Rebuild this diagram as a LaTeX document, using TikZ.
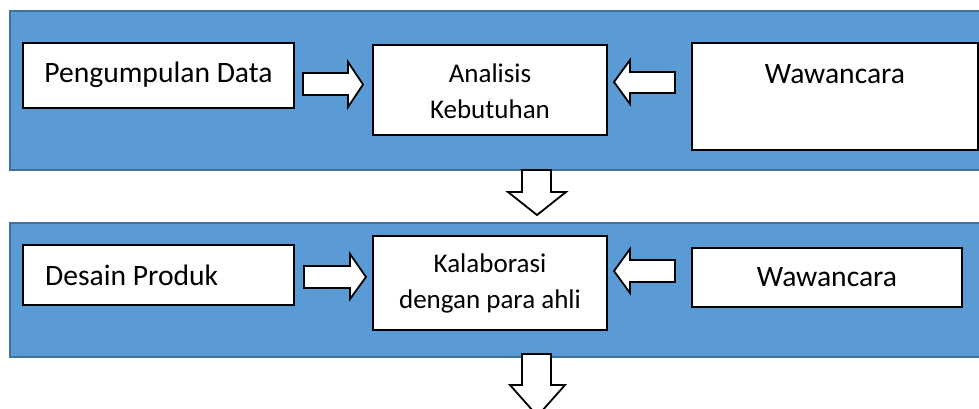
\documentclass[tikz,border=0pt]{standalone}
\usepackage{fontspec}
\setmainfont{Carlito}
\definecolor{bandfill}{HTML}{5B9BD5}
\definecolor{bandline}{HTML}{41719C}
\tikzset{
  band/.style={draw=bandline, fill=bandfill, line width=2.2pt},
  wbox/.style={draw=black, fill=white, line width=1.8pt, rectangle, inner sep=0pt, outer sep=0pt},
  blockarrow/.style={draw=black, fill=white, line width=1.8pt, line join=miter},
  bigtxt/.style={font=\fontsize{29.6}{35}\selectfont, inner sep=0pt, anchor=base},
  smalltxt/.style={font=\fontsize{27}{36}\selectfont, inner sep=0pt, anchor=base},
}
\begin{document}
\begin{tikzpicture}[x=1pt,y=-1pt]
\useasboundingbox (0,0) rectangle (979,408);
\clip (0,0) rectangle (979,408);
% bands
\path[band] (10,11) rectangle (995,170);
\path[band] (10,223) rectangle (995,357);
% boxes
\node[wbox, minimum width=271pt, minimum height=65pt] (b1) at (158.5,75.5) {};
\node[wbox, minimum width=234pt, minimum height=90pt] (b2) at (490,90) {};
\node[wbox, minimum width=286pt, minimum height=107pt] (b3) at (835,96.5) {};
\node[wbox, minimum width=271pt, minimum height=60pt] (b4) at (158.5,275) {};
\node[wbox, minimum width=234pt, minimum height=94pt] (b5) at (490,283) {};
\node[wbox, minimum width=270pt, minimum height=59pt] (b6) at (827,277.5) {};
% texts
\node[bigtxt] (t1) at (158.5,82) {Pengumpulan Data};
\node[smalltxt] (t2a) at (490,82) {Analisis};
\node[smalltxt] (t2b) at (490,118) {Kebutuhan};
\node[bigtxt] (t3) at (835,83) {Wawancara};
\node[bigtxt, anchor=base west] (t4) at (45,285) {Desain Produk};
\node[smalltxt] (t5a) at (490,272) {Kalaborasi};
\node[smalltxt] (t5b) at (490,308) {dengan para ahli};
\node[bigtxt] (t6) at (827,286) {Wawancara};
% block arrows
\path[blockarrow] (303,73) -- (348,73) -- (348,62) -- (363,84.5) -- (348,107) -- (348,95) -- (303,95) -- cycle;
\path[blockarrow] (675,72) -- (630,72) -- (630,60) -- (614,82) -- (630,104) -- (630,93) -- (675,93) -- cycle;
\path[blockarrow] (304,266) -- (350,266) -- (350,254) -- (366,277) -- (350,299) -- (350,288) -- (304,288) -- cycle;
\path[blockarrow] (675,260) -- (630,260) -- (630,249) -- (614,271) -- (630,293) -- (630,282) -- (675,282) -- cycle;
\path[blockarrow] (522,170) -- (522,192) -- (508,192) -- (537,215) -- (566,192) -- (551,192) -- (551,170) -- cycle;
\path[blockarrow] (522,354) -- (522,385) -- (510,385) -- (537.5,416) -- (565,385) -- (551,385) -- (551,354) -- cycle;
\end{tikzpicture}
\end{document}
